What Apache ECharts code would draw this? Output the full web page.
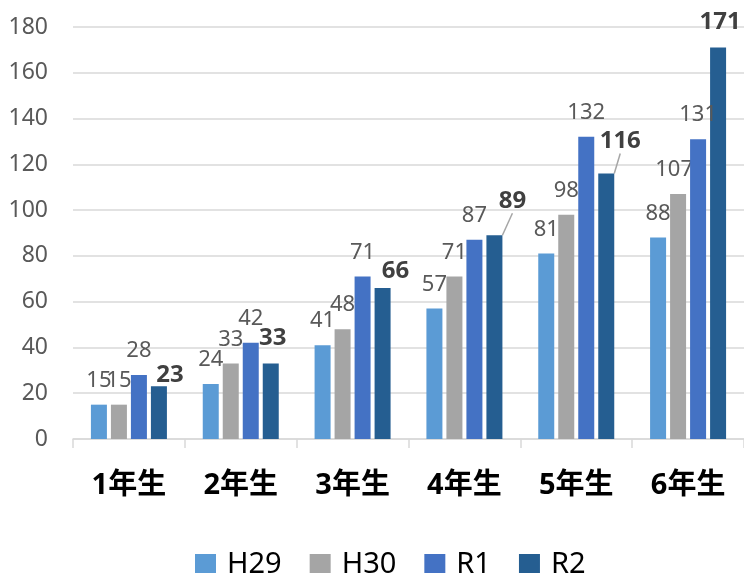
<!DOCTYPE html>
<html>
<head>
<meta charset="utf-8">
<script src="https://cdn.jsdelivr.net/npm/echarts@6/dist/echarts.min.js"></script>
<style>
  html, body { margin: 0; padding: 0; background: #fff; }
  #main { width: 744px; height: 573px; }
</style>
</head>
<body>
<div id="main"></div>
<script>
const categories = ['1年生', '2年生', '3年生', '4年生', '5年生', '6年生'];
const h29 = [15, 24, 41, 57, 81, 88];
const h30 = [15, 33, 48, 71, 98, 107];
const r1 = [28, 42, 71, 87, 132, 131];
const r2 = [23, 33, 66, 89, 116, 171];
const yTicks = [0, 20, 40, 60, 80, 100, 120, 140, 160, 180];

// labels that were dragged aside in the original: [dx, dy, leader line]
const h30Moves = {5: [-4, 0, false]};
const r2Moves = {0: [11, 14, false], 1: [2, 0, false], 2: [13, 8, false], 3: [18, -9, true], 4: [14, -7, true], 5: [2, 0, false]};

const font = '"Noto Sans", "Noto Sans CJK JP", sans-serif';

function bar(name, data, color, bold, moves, zlevel) {
  moves = moves || {};
  return {
    name: name,
    type: 'bar',
    zlevel: zlevel || 0,
    data: data.map((v, i) => {
      let m = moves[i];
      if (!m) return v;
      return {value: v, labelLine: {show: m[2]}};
    }),
    barWidth: 16,
    barGap: '25%',
    itemStyle: {color: color},
    label: {
      show: true,
      position: 'top',
      distance: 13,
      fontFamily: font,
      fontSize: bold ? 24 : 22,
      fontWeight: bold ? 'bold' : 'normal',
      color: bold ? '#404040' : '#595959'
    },
    labelLine: {show: false, lineStyle: {color: '#a6a6a6', width: 1.5}},
    labelLayout: function (params) {
      let m = moves[params.dataIndex];
      if (!m) return {};
      return {dx: m[0], dy: m[1]};
    }
  };
}

let chart = echarts.init(document.getElementById('main'));
let option = {
  animation: false,
  textStyle: {fontFamily: font},
  grid: {left: 73, right: 0, top: 27, bottom: 134},
  legend: {
    top: 545,
    left: 190,
    itemWidth: 21,
    itemHeight: 21,
    itemGap: 28,
    icon: 'rect',
    textStyle: {fontSize: 29, color: '#000', fontFamily: font, padding: [0, 0, 0, 6]}
  },
  xAxis: {
    type: 'category',
    data: categories,
    axisLine: {lineStyle: {color: '#d9d9d9', width: 1.5}},
    axisTick: {show: true, length: 9, lineStyle: {color: '#d9d9d9', width: 1.5}},
    axisLabel: {margin: 32, fontSize: 29, fontWeight: 'bold', color: '#000', fontFamily: font}
  },
  yAxis: {
    type: 'value',
    min: yTicks[0],
    max: yTicks[yTicks.length - 1],
    interval: 20,
    axisLine: {show: false},
    axisTick: {show: false},
    splitLine: {lineStyle: {color: '#d9d9d9', width: 1.5}},
    axisLabel: {margin: 25, fontSize: 23, color: '#595959', fontFamily: font}
  },
  series: [
    bar('H29', h29, '#5B9BD5', false),
    bar('H30', h30, '#A5A5A5', false, h30Moves),
    bar('R1', r1, '#4472C4', false, null, 1),
    bar('R2', r2, '#255E91', true, r2Moves)
  ]
};
option && chart.setOption(option);
</script>
</body>
</html>
